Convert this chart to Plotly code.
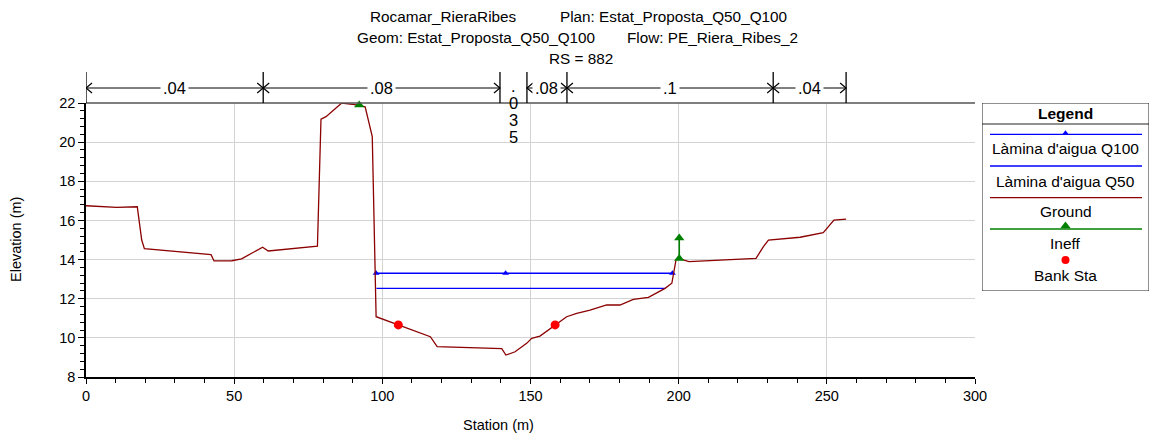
import plotly.graph_objects as go

# ---------------- data ----------------
ground_sta = [0, 10.4, 17.3, 18.8, 19.7, 42.2, 43.2, 49.2, 52.5, 59.6, 61.5, 78.1, 79.3, 81.0,
              86.3, 91.3, 94.2, 96.6, 97.9, 105.4, 112.7, 116.2, 118.5, 126.2, 140.3, 141.7,
              144.8, 148.7, 150.4, 153.2, 158.3, 162.2, 165.6, 170.1, 175.7, 180.2, 184.7,
              189.8, 195.4, 197.7, 199.1, 200.1, 203.5, 208.3, 226.1, 228.6, 230.3, 241.0,
              248.8, 252.4, 256.5]
ground_elev = [16.75, 16.67, 16.7, 15.0, 14.56, 14.25, 13.93, 13.94, 14.04, 14.63, 14.44, 14.69,
               21.17, 21.3, 22.0, 21.9, 21.8, 20.28, 11.08, 10.66, 10.23, 10.06, 9.55, 9.52,
               9.45, 9.12, 9.29, 9.72, 9.98, 10.09, 10.66, 11.08, 11.25, 11.42, 11.68, 11.68,
               11.97, 12.07, 12.53, 12.79, 13.98, 14.05, 13.9, 13.93, 14.06, 14.66, 15.0,
               15.14, 15.37, 16.02, 16.07]

q100_sta = [97.9, 141.6, 197.9]
q100_elev = [13.3, 13.3, 13.3]
q50_sta = [98.0, 195.4]
q50_elev = [12.53, 12.53]

ineff_left_sta = [92.2]
ineff_left_elev = [21.9]
ineff_right_sta = [200.2, 200.2]
ineff_right_elev = [14.05, 15.1]

bank_sta = [105.4, 158.3]
bank_elev = [10.66, 10.66]

n_sta = [0, 59.8, 139.7, 148.8, 162.3, 231.9, 256.5]
n_vals = [".04", ".08", ".035", ".08", ".1", ".04"]

legend_names = ["Làmina d'aigua Q100", "Làmina d'aigua Q50", "Ground", "Ineff", "Bank Sta"]

x_ticks = [0, 50, 100, 150, 200, 250, 300]
y_ticks = [8, 10, 12, 14, 16, 18, 20, 22]

title_line1 = ["Rocamar_RieraRibes", "Plan: Estat_Proposta_Q50_Q100"]
title_line2 = ["Geom: Estat_Proposta_Q50_Q100", "Flow: PE_Riera_Ribes_2"]
title_line3 = "RS = 882"

# ---------------- layout helpers ----------------
W, H = 1156, 441
L, R_EDGE = 86, 1150       # paper spans these pixels
T, B = 103, 377            # plot top / bottom pixels
PLOT_R = 975


def px(p):
    return (p - L) / (R_EDGE - L)


def py(p):
    return (B - p) / (B - T)


FONT = "Liberation Sans, Arial, Helvetica, sans-serif"
GROUND_C = "#8B0000"
WATER_C = "#0000FF"
INEFF_C = "#008000"
BANK_C = "#FF0000"

fig = go.Figure()

fig.add_trace(go.Scatter(x=q100_sta, y=q100_elev, mode="lines+markers",
                         line=dict(color=WATER_C, width=1.3),
                         marker=dict(symbol="triangle-up", size=6, color=WATER_C),
                         showlegend=False))
fig.add_trace(go.Scatter(x=q50_sta, y=q50_elev, mode="lines",
                         line=dict(color=WATER_C, width=1.3), showlegend=False))
fig.add_trace(go.Scatter(x=ground_sta, y=ground_elev, mode="lines",
                         line=dict(color=GROUND_C, width=1.3), showlegend=False))
fig.add_trace(go.Scatter(x=ineff_right_sta, y=ineff_right_elev, mode="lines+markers",
                         line=dict(color=INEFF_C, width=1.6),
                         marker=dict(symbol="triangle-up", size=9, color=INEFF_C),
                         showlegend=False))
fig.add_trace(go.Scatter(x=ineff_left_sta, y=ineff_left_elev, mode="markers",
                         marker=dict(symbol="triangle-up", size=9, color=INEFF_C),
                         cliponaxis=False, showlegend=False))
fig.add_trace(go.Scatter(x=bank_sta, y=bank_elev, mode="markers",
                         marker=dict(symbol="circle", size=9, color=BANK_C),
                         showlegend=False))

# ---------------- custom legend (pixel-coordinate axes) ----------------
LG_X0, LG_X1, LG_Y0, LG_Y1 = 982, 1149, 103, 291
lg_line_y = [134.3, 166, 197.7, 229]
lg_text_y = [148, 181, 211.7, 243, 275]
lg_cx = (LG_X0 + LG_X1) / 2
lg_colors = [WATER_C, WATER_C, GROUND_C, INEFF_C]
for i, yy in enumerate(lg_line_y):
    fig.add_trace(go.Scatter(x=[990, 1142], y=[yy, yy], mode="lines",
                             line=dict(color=lg_colors[i], width=1.3),
                             xaxis="x2", yaxis="y2", showlegend=False, hoverinfo="skip"))
fig.add_trace(go.Scatter(x=[lg_cx], y=[lg_line_y[0] - 1], mode="markers",
                         marker=dict(symbol="triangle-up", size=6, color=WATER_C),
                         xaxis="x2", yaxis="y2", showlegend=False, hoverinfo="skip"))
fig.add_trace(go.Scatter(x=[lg_cx], y=[lg_line_y[3] - 3], mode="markers",
                         marker=dict(symbol="triangle-up", size=9, color=INEFF_C),
                         xaxis="x2", yaxis="y2", showlegend=False, hoverinfo="skip"))
fig.add_trace(go.Scatter(x=[lg_cx], y=[260], mode="markers",
                         marker=dict(symbol="circle", size=8, color=BANK_C),
                         xaxis="x2", yaxis="y2", showlegend=False, hoverinfo="skip"))

shapes = []
annotations = []

shapes.append(dict(type="rect", xref="x2", yref="y2", x0=LG_X0, x1=LG_X1, y0=LG_Y0, y1=LG_Y1,
                   line=dict(color="#222", width=1)))
shapes.append(dict(type="line", xref="x2", yref="y2", x0=LG_X0, x1=LG_X1, y0=124, y1=124,
                   line=dict(color="#222", width=1)))
lgfont = dict(family=FONT, size=15.5, color="black")
annotations.append(dict(xref="x2", yref="y2", x=lg_cx, y=113, text="<b>Legend</b>",
                        xanchor="center", yanchor="middle", showarrow=False, font=lgfont))
for name, yy in zip(legend_names, lg_text_y):
    annotations.append(dict(xref="x2", yref="y2", x=lg_cx, y=yy, text=name, showarrow=False,
                            xanchor="center", yanchor="middle", font=lgfont))

# ---------------- top border of plot ----------------
shapes.append(dict(type="line", xref="x", yref="paper", x0=0, x1=300, y0=1, y1=1,
                   line=dict(color="#555", width=1.5)))

# ---------------- Manning's n bar ----------------
nfont = dict(family=FONT, size=16.5, color="black")
bar_y = py(88)
dx = 6 / ((PLOT_R - L) / 300.0)   # chevron length in data units
dy = 5 / (B - T)
for s in n_sta:
    shapes.append(dict(type="line", xref="x", yref="paper", x0=s, x1=s, y0=1, y1=py(72),
                       line=dict(color="black", width=1.3)))
for i, lab in enumerate(n_vals):
    a, b = n_sta[i], n_sta[i + 1]
    wpx = (b - a) * (PLOT_R - L) / 300.0
    if wpx < 30:
        for k, ch in enumerate(lab):
            annotations.append(dict(xref="x", yref="paper", x=(a + b) / 2, y=py(86 + 17 * k),
                                    text=ch, showarrow=False, xanchor="center",
                                    yanchor="middle", font=nfont))
        continue
    shapes.append(dict(type="line", xref="x", yref="paper", x0=a, x1=b, y0=bar_y, y1=bar_y,
                       line=dict(color="black", width=1)))
    shapes.append(dict(type="path", xref="x", yref="paper",
                       path=f"M {a+dx},{bar_y+dy} L {a},{bar_y} L {a+dx},{bar_y-dy}",
                       line=dict(color="black", width=1.2)))
    shapes.append(dict(type="path", xref="x", yref="paper",
                       path=f"M {b-dx},{bar_y+dy} L {b},{bar_y} L {b-dx},{bar_y-dy}",
                       line=dict(color="black", width=1.2)))
    annotations.append(dict(xref="x", yref="paper", x=(a + b) / 2, y=bar_y, text=lab,
                            showarrow=False, bgcolor="white", borderpad=2,
                            xanchor="center", yanchor="middle", font=nfont))

# ---------------- titles ----------------
tfont = dict(family=FONT, size=15.3, color="black")
afont = dict(family=FONT, size=14.5, color="black")


def ann(x, y, text, xanchor="center", font=tfont, **kw):
    d = dict(xref="paper", yref="paper", x=px(x), y=py(y), text=text, showarrow=False,
             xanchor=xanchor, yanchor="middle", font=font)
    d.update(kw)
    return d


annotations += [
    ann(368, 16, title_line1[0], "left"),
    ann(558, 16, title_line1[1], "left"),
    ann(355, 38, title_line2[0], "left"),
    ann(625, 38, title_line2[1], "left"),
    ann(581, 58, title_line3),
    ann(498, 425, "Station (m)", font=afont),
    ann(16, 240, "Elevation (m)", font=afont, textangle=-90),
]

fig.update_layout(
    width=W, height=H,
    margin=dict(l=L, r=W - R_EDGE, t=T, b=H - B, pad=0),
    paper_bgcolor="white", plot_bgcolor="white",
    font=dict(family=FONT, size=14.5, color="black"),
    showlegend=False,
    shapes=shapes, annotations=annotations,
    xaxis=dict(domain=[0, px(PLOT_R)], range=[0, 300], tickvals=x_ticks,
               ticks="outside", ticklen=5, tickcolor="black", showline=True,
               linecolor="black", linewidth=1.5, showgrid=True, gridcolor="#D3D3D3",
               gridwidth=1, zeroline=False, tickfont=dict(size=14.5), automargin=False,
               minor=dict(dtick=10, ticks="outside", ticklen=4, tickcolor="black",
                          showgrid=False)),
    yaxis=dict(range=[8, 22], tickvals=y_ticks, ticks="outside", ticklen=6,
               tickcolor="black", showline=True, linecolor="black", linewidth=1.5,
               showgrid=True, gridcolor="#D3D3D3", gridwidth=1, zeroline=False,
               tickfont=dict(size=14.5), automargin=False,
               minor=dict(dtick=0.4, ticks="outside", ticklen=4, tickcolor="black",
                          showgrid=False)),
    xaxis2=dict(domain=[px(LG_X0), px(LG_X1)], range=[LG_X0, LG_X1], visible=False,
                anchor="y2", fixedrange=True),
    yaxis2=dict(domain=[py(LG_Y1), 1], range=[LG_Y1, LG_Y0], visible=False,
                anchor="x2", fixedrange=True),
)

fig.write_html("out.html", post_script="document.body.style.margin='0';",
               config={"displayModeBar": False})
